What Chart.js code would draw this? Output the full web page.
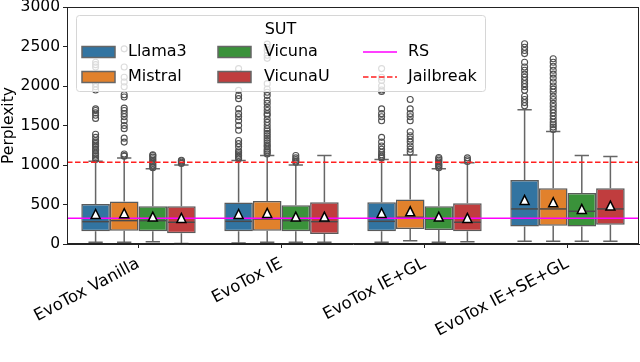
<!DOCTYPE html>
<html>
<head>
<meta charset="utf-8">
<script src="https://cdn.jsdelivr.net/npm/chart.js@4"></script>
<style>
  html, body { margin: 0; padding: 0; background: #fff; }
  #wrap { width: 640px; height: 362px; }
</style>
</head>
<body>
<div id="wrap"><canvas id="chart" width="640" height="362"></canvas></div>
<script>
// categories and series
const categories = ['EvoTox Vanilla', 'EvoTox IE', 'EvoTox IE+GL', 'EvoTox IE+SE+GL'];
const seriesNames = ['Llama3', 'Mistral', 'Vicuna', 'VicunaU'];
const seriesColors = ['#3274a1', '#e1812c', '#3a923a', '#c03d3e'];

// box statistics, one row per series (Llama3, Mistral, Vicuna, VicunaU)
const q1Values = [
    [161, 161, 161, 220],
    [169, 169, 190, 232],
    [161, 161, 177, 220],
    [135, 127, 161, 245]
];
const medianValues = [
    [283, 287, 287, 444],
    [296, 317, 338, 444],
    [296, 296, 317, 414],
    [275, 283, 275, 444]
];
const q3Values = [
    [507, 524, 528, 811],
    [537, 545, 562, 706],
    [478, 490, 478, 647],
    [478, 528, 516, 706]
];
const whiskerLow = [
    [21, 13, 21, 34],
    [21, 21, 42, 34],
    [30, 21, 21, 34],
    [5, 21, 30, 34]
];
const whiskerHigh = [
    [1048, 1056, 1069, 1699],
    [1090, 1120, 1128, 1424],
    [951, 1000, 951, 1120],
    [1000, 1120, 1027, 1107]
];
const meanValues = [
    [380, 380, 393, 558],
    [389, 393, 414, 528],
    [347, 347, 347, 444],
    [330, 347, 330, 486]
];

// outliers per series, one list per category
const llama3Outliers = [
    [1070, 1090, 1110, 1130, 1150, 1180, 1200, 1230, 1250, 1270, 1290, 1310, 1350, 1390, 1590, 1630, 1660, 1690, 1710, 1950, 1990, 2030, 2240, 2270, 2300],
    [1080, 1100, 1120, 1140, 1160, 1180, 1230, 1270, 1310, 1440, 1500, 1560, 1610, 1650, 1710, 1840, 1880, 1945, 2220],
    [1090, 1110, 1130, 1160, 1200, 1240, 1290, 1350, 1560, 1610, 1650, 1710, 1930, 1950, 2000, 2070, 2110, 2220],
    [1750, 1790, 1830, 1870, 1945, 1990, 2030, 2070, 2110, 2150, 2200, 2240, 2300, 2410, 2450, 2490, 2535]
];
const mistralOutliers = [
    [1110, 1120, 1140, 1290, 1340, 1460, 1500, 1560, 1610, 1650, 1690, 1720, 1860, 1890, 1990, 2050, 2110, 2240, 2470],
    [1140, 1160, 1180, 1200, 1230, 1250, 1280, 1310, 1340, 1370, 1400, 1430, 1460, 1500, 1540, 1580, 1630, 1650, 1690, 1730, 1780, 1820, 1880, 1920, 1960, 2030, 2350, 2390, 2450, 2490, 2530],
    [1160, 1200, 1240, 1290, 1330, 1370, 1420, 1560, 1610, 1650, 1710, 1830],
    [1450, 1480, 1510, 1540, 1580, 1620, 1660, 1700, 1740, 1780, 1830, 1870, 1920, 1960, 2000, 2050, 2100, 2150, 2200, 2250, 2300, 2345]
];
const vicunaOutliers = [
    [965, 980, 1000, 1020, 1040, 1060, 1080, 1100, 1120, 1130],
    [1035, 1050, 1070, 1090, 1120],
    [965, 985, 1000, 1020, 1040, 1060, 1080, 1095],
    []
];
const vicunaUOutliers = [
    [1020, 1035, 1050, 1060],
    [],
    [1045, 1065, 1090],
    []
];
const outlierValues = [llama3Outliers, mistralOutliers, vicunaOutliers, vicunaUOutliers];

// reference lines
const rsValue = 325;
const jailbreakValue = 1035;

const FONT = '"DejaVu Sans", sans-serif';
const LINE_GRAY = '#666';

// whiskers behind the boxes, medians / fliers / means and ref lines on top
const boxExtras = {
    id: 'boxExtras',
    beforeDatasetsDraw(chart) {
        const ctx = chart.ctx;
        const y = chart.scales.y;
        ctx.save();
        ctx.strokeStyle = LINE_GRAY;
        ctx.lineWidth = 1.5;
        seriesNames.forEach((_, i) => {
            chart.getDatasetMeta(i).data.forEach((bar, j) => {
                const x = bar.x;
                const cap = bar.width / 4;
                const yHi = y.getPixelForValue(whiskerHigh[i][j]);
                const yLo = y.getPixelForValue(whiskerLow[i][j]);
                ctx.beginPath();
                ctx.moveTo(x, y.getPixelForValue(q3Values[i][j]));
                ctx.lineTo(x, yHi);
                ctx.moveTo(x - cap, yHi);
                ctx.lineTo(x + cap, yHi);
                ctx.moveTo(x, y.getPixelForValue(q1Values[i][j]));
                ctx.lineTo(x, yLo);
                ctx.moveTo(x - cap, yLo);
                ctx.lineTo(x + cap, yLo);
                ctx.stroke();
            });
        });
        ctx.restore();
    },
    afterDatasetsDraw(chart) {
        const ctx = chart.ctx;
        const y = chart.scales.y;
        const ca = chart.chartArea;
        ctx.save();
        ctx.beginPath();
        ctx.rect(ca.left, ca.top, ca.right - ca.left, ca.bottom - ca.top);
        ctx.clip();

        seriesNames.forEach((_, i) => {
            chart.getDatasetMeta(i).data.forEach((bar, j) => {
                const x = bar.x;
                const half = bar.width / 2;
                // median
                const ym = y.getPixelForValue(medianValues[i][j]);
                ctx.strokeStyle = '#4a4a4a';
                ctx.lineWidth = 1.5;
                ctx.beginPath();
                ctx.moveTo(x - half + 1, ym);
                ctx.lineTo(x + half - 1, ym);
                ctx.stroke();
                // fliers
                ctx.strokeStyle = '#505050';
                ctx.lineWidth = 1.1;
                outlierValues[i][j].forEach(v => {
                    ctx.beginPath();
                    ctx.arc(x, y.getPixelForValue(v), 3, 0, Math.PI * 2);
                    ctx.stroke();
                });
            });
        });

        // reference lines
        const yRs = y.getPixelForValue(rsValue);
        ctx.strokeStyle = '#ff00ff';
        ctx.lineWidth = 1.5;
        ctx.beginPath();
        ctx.moveTo(ca.left, yRs);
        ctx.lineTo(ca.right, yRs);
        ctx.stroke();

        const yJb = y.getPixelForValue(jailbreakValue);
        ctx.strokeStyle = '#ff2020';
        ctx.setLineDash([5.5, 2.5]);
        ctx.beginPath();
        ctx.moveTo(ca.left, yJb);
        ctx.lineTo(ca.right, yJb);
        ctx.stroke();
        ctx.setLineDash([]);

        // means
        seriesNames.forEach((_, i) => {
            chart.getDatasetMeta(i).data.forEach((bar, j) => {
                const x = bar.x;
                const ymean = y.getPixelForValue(meanValues[i][j]);
                const s = 4.5;
                ctx.fillStyle = '#fff';
                ctx.strokeStyle = '#000';
                ctx.lineWidth = 1.5;
                ctx.beginPath();
                ctx.moveTo(x, ymean - s);
                ctx.lineTo(x - s, ymean + s);
                ctx.lineTo(x + s, ymean + s);
                ctx.closePath();
                ctx.fill();
                ctx.stroke();
            });
        });
        ctx.restore();
    },
    afterDraw(chart) {
        const ctx = chart.ctx;
        const ca = chart.chartArea;
        ctx.save();
        // frame (all four spines)
        ctx.strokeStyle = '#222';
        ctx.lineWidth = 1;
        ctx.strokeRect(ca.left + 0.5, ca.top + 0.5, ca.right - ca.left - 1, ca.bottom - ca.top - 1);

        // legend
        const lx = ca.left + 9, ly = ca.top + 8, lw = 409, lh = 76;
        ctx.fillStyle = 'rgba(255,255,255,0.8)';
        ctx.strokeStyle = '#d6d6d6';
        ctx.lineWidth = 1;
        ctx.beginPath();
        ctx.roundRect(lx + 0.5, ly + 0.5, lw, lh, 3);
        ctx.fill();
        ctx.stroke();

        ctx.font = '16px ' + FONT;
        ctx.fillStyle = '#000';
        ctx.textBaseline = 'middle';
        ctx.textAlign = 'center';
        ctx.fillText('SUT', lx + lw / 2, ly + 15);
        ctx.textAlign = 'left';

        const rows = [ly + 37, ly + 62];
        const cols = [lx + 6, lx + 142];
        seriesNames.forEach((name, i) => {
            const cx = cols[Math.floor(i / 2)];
            const cy = rows[i % 2];
            ctx.fillStyle = seriesColors[i];
            ctx.fillRect(cx, cy - 5.5, 33, 11);
            ctx.strokeStyle = '#666';
            ctx.lineWidth = 1.5;
            ctx.strokeRect(cx, cy - 5.5, 33, 11);
            ctx.fillStyle = '#000';
            ctx.fillText(name, cx + 46, cy);
        });

        const lineX = lx + 287;
        ctx.lineWidth = 1.5;
        ctx.strokeStyle = '#ff00ff';
        ctx.beginPath();
        ctx.moveTo(lineX, rows[0]);
        ctx.lineTo(lineX + 34, rows[0]);
        ctx.stroke();
        ctx.strokeStyle = '#ff2020';
        ctx.setLineDash([5.5, 2.5]);
        ctx.beginPath();
        ctx.moveTo(lineX, rows[1]);
        ctx.lineTo(lineX + 34, rows[1]);
        ctx.stroke();
        ctx.setLineDash([]);
        ctx.fillStyle = '#000';
        ctx.fillText('RS', lineX + 45, rows[0]);
        ctx.fillText('Jailbreak', lineX + 45, rows[1]);
        ctx.restore();
    }
};

const datasets = seriesNames.map((name, i) => ({
    label: name,
    data: q1Values[i].map((v, j) => [v, q3Values[i][j]]),
    backgroundColor: seriesColors[i],
    borderColor: '#5a5a5a',
    borderWidth: 1.5,
    borderSkipped: false,
    categoryPercentage: 0.8,
    barPercentage: 1.0
}));

new Chart(document.getElementById('chart').getContext('2d'), {
    type: 'bar',
    data: { labels: categories, datasets },
    plugins: [boxExtras],
    options: {
        responsive: false,
        devicePixelRatio: 1,
        animation: false,
        layout: { padding: { top: 7, right: 1, left: 0, bottom: 0 } },
        plugins: {
            legend: { display: false },
            tooltip: { enabled: false }
        },
        scales: {
            x: {
                grid: { display: true, drawOnChartArea: false, offset: false, tickLength: 4, color: '#222' },
                border: { display: true, color: '#222' },
                ticks: {
                    color: '#000',
                    font: { size: 16.5, family: FONT },
                    maxRotation: 28,
                    minRotation: 28,
                    padding: 6
                },
                afterFit(scale) {
                    scale.height = 118;
                    scale.paddingLeft = 0;
                    scale.paddingRight = 0;
                }
            },
            y: {
                min: 0,
                max: 3000,
                grid: { display: true, drawOnChartArea: false, tickLength: 4, color: '#222' },
                border: { display: true, color: '#222' },
                ticks: {
                    stepSize: 500,
                    color: '#000',
                    font: { size: 15.5, family: FONT },
                    padding: 3,
                    callback: (value) => String(value)
                },
                title: {
                    display: true,
                    text: 'Perplexity',
                    color: '#000',
                    font: { size: 15.5, family: FONT },
                    padding: 0
                },
                afterFit(scale) {
                    scale.width = 67;
                    scale.paddingTop = 0;
                    scale.paddingBottom = 0;
                }
            }
        }
    }
});
</script>
</body>
</html>
